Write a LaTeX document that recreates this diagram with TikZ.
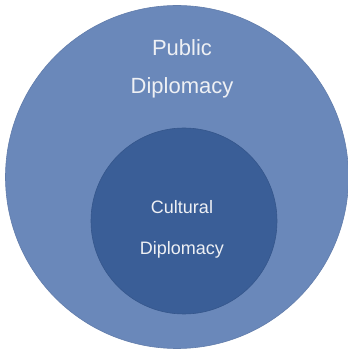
\documentclass[tikz,border=0pt]{standalone}
\usepackage{fontspec}
\setmainfont{Liberation Sans}
\usepackage{xcolor}
\usepackage{tikz}
\usetikzlibrary{positioning}

\definecolor{outerblue}{HTML}{6A88BA}
\definecolor{innerblue}{HTML}{3A5E97}
\definecolor{labelgray}{HTML}{EEF0F4}

\begin{document}
\begin{tikzpicture}[x=1pt, y=1pt,
    ring/.style={circle, inner sep=0pt, draw=#1!92!black, line width=0.6pt, fill=#1},
    label/.style={text=labelgray, align=center}]
  \useasboundingbox (0,0) rectangle (348,354);
  % --- outer circle: public diplomacy ---
  \node[ring=outerblue, minimum size=343pt] (public) at (177,177) {};
  \node[label, font=\fontsize{22}{38}\selectfont] (publictext) at (182,285)
    {Public\\Diplomacy};
  % --- inner circle: cultural diplomacy ---
  \node[ring=innerblue, minimum size=186pt] (cultural) at (184,133) {};
  \node[label, font=\fontsize{18}{41}\selectfont] (culturaltext) at (182,125)
    {Cultural\\Diplomacy};
\end{tikzpicture}
\end{document}
